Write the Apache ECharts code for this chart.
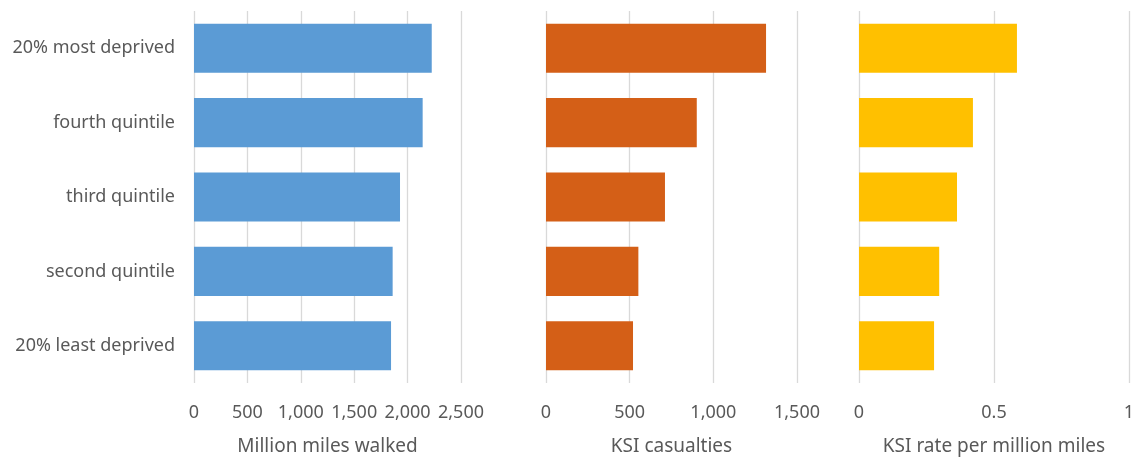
<!DOCTYPE html>
<html>
<head>
<meta charset="utf-8">
<script src="https://cdn.jsdelivr.net/npm/echarts@6/dist/echarts.min.js"></script>
<style>html,body{margin:0;padding:0;background:#fff}#c{width:1131px;height:461px}</style>
</head>
<body>
<div id="c"></div>
<script>
var categories = ['20% most deprived', 'fourth quintile', 'third quintile', 'second quintile', '20% least deprived'];
var milesWalked = [2226, 2141, 1929, 1860, 1845];
var ksiCasualties = [1315, 901, 711, 552, 520];
var ksiRate = [0.585, 0.422, 0.363, 0.297, 0.278];
var axisNames = ['Million miles walked', 'KSI casualties', 'KSI rate per million miles'];

var txt = '#595959';
var font = 'Noto Sans';
var chart = echarts.init(document.getElementById('c'));
var grids = [
  {left: 194, width: 267, top: 11, height: 372, outerBoundsMode: 'none', containLabel: false},
  {left: 546, width: 251, top: 11, height: 372, outerBoundsMode: 'none', containLabel: false},
  {left: 859, width: 270, top: 11, height: 372, outerBoundsMode: 'none', containLabel: false}
];
function xAxis(i, max, interval, fmt) {
  return {
    type: 'value', gridIndex: i, min: 0, max: max, interval: interval,
    name: axisNames[i], nameLocation: 'middle', nameGap: 54,
    nameTextStyle: {color: txt, fontSize: 19, fontFamily: font},
    axisLine: {show: false}, axisTick: {show: false},
    splitLine: {show: true, lineStyle: {color: '#d9d9d9', width: 1.3}},
    axisLabel: {color: txt, fontSize: 18, fontFamily: font, margin: 21, formatter: fmt}
  };
}
function yAxis(i, show) {
  return {
    type: 'category', gridIndex: i, data: categories, inverse: true,
    axisLine: {show: false}, axisTick: {show: false},
    axisLabel: {show: show, color: txt, fontSize: 18, fontFamily: font, margin: 19}
  };
}
var thousands = function (v) { return v.toLocaleString('en-US'); };
var colors = ['#5b9bd5', '#d45f17', '#ffc000'];
var datas = [milesWalked, ksiCasualties, ksiRate];
chart.setOption({
  animation: false,
  grid: grids,
  xAxis: [xAxis(0, 2500, 500, thousands), xAxis(1, 1500, 500, thousands), xAxis(2, 1, 0.5, function (v) { return String(v); })],
  yAxis: [yAxis(0, true), yAxis(1, false), yAxis(2, false)],
  series: datas.map(function (d, i) {
    return {type: 'bar', xAxisIndex: i, yAxisIndex: i, data: d, barCategoryGap: '34%',
      itemStyle: {color: colors[i]}};
  })
});
</script>
</body>
</html>
